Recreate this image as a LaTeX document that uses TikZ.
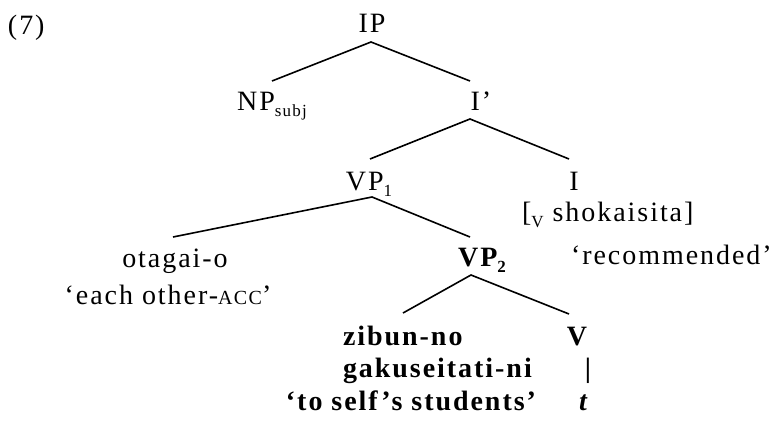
\documentclass[tikz,border=0pt]{standalone}
\usepackage{fontspec}
\setmainfont[LetterSpace=7]{Liberation Serif}
\newcommand{\lsub}[1]{\raisebox{-0.22em}{\fontsize{17}{17}\selectfont #1}}
\newcommand{\fsc}[1]{{\fontsize{20}{20}\selectfont #1}}
\begin{document}
\begin{tikzpicture}[x=1pt,y=-1pt,
  every node/.style={inner sep=0pt, outer sep=0pt, font=\fontsize{28}{32}\selectfont},
  lbl/.style={anchor=base},
  bld/.style={anchor=base, font=\fontsize{28}{32}\selectfont\bfseries},
  branch/.style={line width=1.6pt}]
\useasboundingbox (0,0) rectangle (776,423);
% labels
\node[lbl, anchor=base west] (ex) at (8,34) {(7)};
\node[lbl] (IP) at (372,32) {IP};
\node[lbl] (NP) at (272,110) {NP\lsub{subj}};
\node[lbl] (Ibar) at (481,110) {I’};
\node[lbl] (VP1) at (369,190) {VP\lsub{1}};
\node[lbl] (I) at (574,190) {I};
\node[lbl, anchor=base west] (Vsh) at (522,221) {[\lsub{V} shokaisita]};
\node[lbl, anchor=base west] (rec) at (571,264) {‘recommended’};
\node[lbl] (ota) at (175,267) {otagai-o};
\node[lbl] (eo) at (168,304) {‘each other-\fsc{ACC}’};
\node[bld] (VP2) at (482,266) {VP\lsub{2}};
\node[bld, anchor=base west] (zib) at (343,345) {zibun-no};
\node[bld, anchor=base west] (gak) at (343,377) {gakuseitati-ni};
\node[bld, anchor=base east] (tss) at (536,410) {‘to self’s students’};
\node[bld] (V) at (577,345) {V};
\node[bld] (bar) at (588,377) {|};
\node[bld, font=\fontsize{28}{32}\selectfont\bfseries\itshape] (t) at (583,410) {t};
% branch points
\coordinate (ipA) at (371,42);
\coordinate (ipL) at (272,81);
\coordinate (ipR) at (470,81);
\coordinate (ibA) at (470,119);
\coordinate (ibL) at (370,159);
\coordinate (ibR) at (569,159);
\coordinate (v1A) at (372,197);
\coordinate (v1L) at (173,237);
\coordinate (v1R) at (470,237);
\coordinate (v2A) at (471,275);
\coordinate (v2L) at (403,313);
\coordinate (v2R) at (569,314);
\draw[branch] (ipL) -- (ipA) -- (ipR);
\draw[branch] (ibL) -- (ibA) -- (ibR);
\draw[branch] (v1L) -- (v1A) -- (v1R);
\draw[branch] (v2L) -- (v2A) -- (v2R);
\end{tikzpicture}
\end{document}
